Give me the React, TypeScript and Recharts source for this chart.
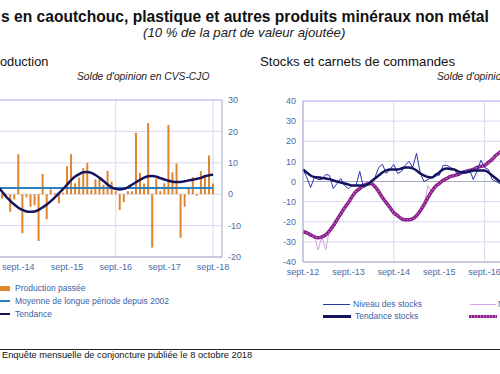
import React from 'react';
import { ComposedChart, LineChart, Bar, Line, XAxis, YAxis, CartesianGrid, ReferenceLine } from 'recharts';

// ---------- Left chart: Production (month index 0 = janv.-14) ----------
const prodStartMonth = 2; // mars-14
const productionPassee = [
  0, 0, -1.4, -0.4, -5.6, -1.7, 12.7, -12.4, -1, -4, -3.5, -14.9, 6.4, -8, 1.5, 0.3,
  -2.9, 0.5, 8.9, 12.7, 3.5, 5.3, 8.3, 10, 1.5, 4.8, 4.8, 3, 7.5, 4, 1, -5, -2.5, 0.9,
  0.9, 19.6, 6.8, 3.4, 22.7, -17, 5, 1, 3.5, 22, 7, 9.8, -13.9, -4, 1.7, 5.5, -0.5, 7.3,
  5.5, 12.3, 3.4,
];
const tendanceProd = [
  3.8, 2.4, 0.8, -0.8, -2.1, -3.3, -4.3, -5.0, -5.5, -5.6, -5.5, -5.0, -4.2, -3.3, -2.2,
  -1.0, 0.3, 1.6, 3.0, 4.5, 5.6, 6.4, 7.0, 7.1, 6.8, 6.1, 5.2, 4.2, 3.1, 2.2, 1.7, 1.5,
  1.7, 2.2, 3.0, 3.8, 4.6, 5.3, 5.7, 5.8, 5.6, 5.1, 4.7, 4.3, 4.0, 3.9, 3.9, 4.1, 4.4,
  4.6, 4.9, 5.2, 5.7, 6.0, 6.3,
];
const moyenneLonguePeriode = 2.0;
const leftTicks = [8, 20, 32, 44, 56];
const leftTickLabels = ['sept.-14', 'sept.-15', 'sept.-16', 'sept.-17', 'sept.-18'];

// ---------- Right chart: Stocks et carnets (month index 0 = sept.-12) ----------
const niveauStocks = [
  6, 2, -3, 2, 1, 1, 3.5, 3, -3.5, -1, 1.5, -2, -3.5, -2, -2, 5, -3, -2, 0, 2, 7, 8.5, 4,
  6, 8.5, 4, 5, 8, 10, 7, 14, 4, 0, 1, 2, 4, 3, 8, 8, 7, 6, 3, 5, 5, 6, 1, 5, 10.5, 7, 6,
  1, 0, -1, -2, -1,
];
const tendanceStocks = [
  6, 4.5, 3, 2.2, 2, 1.8, 1.5, 1.2, 0.5, 0, -0.5, -1, -1.5, -2, -2, -2, -2, -1.5, 0, 1.5,
  3, 4.5, 5.5, 6, 6, 6, 6.5, 7, 7, 6.5, 5.5, 4, 3, 2.2, 2, 3, 4.5, 6, 6.5, 6.2, 6, 5, 4.5,
  4.5, 5, 5.5, 5.5, 5.5, 5.5, 4.5, 3, 1.5, 0, -1, -2,
];
const niveauCarnets = [
  -25, -26, -26, -27, -34, -27.5, -34, -24, -22.5, -19, -16.5, -13, -11, -7.5, -5.5, -3,
  -2, -0.5, 0.5, -2.5, -5.5, -8, -10.5, -13.5, -15.5, -17.5, -18.5, -19.5, -18.5, -18.5,
  -17, -14, -11.5, -2, -5.5, -2.5, -1, 0.5, 1.5, 2, 3, 3.5, 4.5, 5.5, 5, 6, 7.5, 7.5, 8,
  9.5, 11, 13, 14.5, 16, 17.5,
];
const tendanceCarnets = [
  -25, -25.5, -26.5, -27.5, -28, -27.5, -26.5, -24.5, -22, -19, -16, -13, -10.5, -7.5, -5,
  -3.5, -2, -1.2, -1, -2.5, -5, -8, -10.5, -13, -15.5, -17, -18.5, -19, -19, -18.5, -17,
  -14.5, -11.5, -8, -5, -2.5, -1, 0.5, 1.5, 2.5, 3, 3.5, 4.5, 5, 5.5, 6, 7, 7.5, 8, 9.5,
  11, 13, 14.5, 16, 17.5,
];
const rightTicks = [0, 12, 24, 36, 48, 60, 72];
const rightTickLabels = ['sept.-12', 'sept.-13', 'sept.-14', 'sept.-15', 'sept.-16', 'sept.-17', 'sept.-18'];

const leftData = productionPassee.map((v, i) => ({
  m: prodStartMonth + i,
  prod: v,
  tend: tendanceProd[i],
  moy: moyenneLonguePeriode,
}));
const rightData = niveauStocks.map((v, i) => ({
  m: i,
  ns: v,
  ts: tendanceStocks[i],
  nc: niveauCarnets[i],
  tc: tendanceCarnets[i],
}));

const FONT = '"Liberation Sans", Arial, sans-serif';
const TICK = { fill: '#4a6aa8', fontSize: 9, fontFamily: FONT };
const GRID = '#d8d8f0';
const AXIS = '#a8a8c8';
const LEG = { fontSize: 8.5, color: '#3a62a8' };

const abs = (l: number, t: number): React.CSSProperties => ({ position: 'absolute', left: l, top: t, whiteSpace: 'nowrap' });

export default function App() {
  return (
    <div style={{ position: 'absolute', left: 0, top: 0, width: 500, height: 374, overflow: 'hidden', background: '#fff', fontFamily: FONT }}>
      <div style={{ ...abs(1, 8), fontSize: 15.6, fontWeight: 'bold', color: '#111' }}>
        s en caoutchouc, plastique et autres produits minéraux non métal
      </div>
      <div style={{ ...abs(143, 25), fontSize: 13.2, fontStyle: 'italic', color: '#222' }}>
        (10 % de la part de valeur ajoutée)
      </div>
      <div style={{ ...abs(0, 54), fontSize: 12.8, color: '#111' }}>oduction</div>
      <div style={{ ...abs(77, 71), fontSize: 10.3, fontStyle: 'italic', color: '#222' }}>Solde d'opinion en CVS-CJO</div>
      <div style={{ ...abs(260, 54), fontSize: 13.2, color: '#111' }}>Stocks et carnets de commandes</div>
      <div style={{ ...abs(437, 71), fontSize: 10.3, fontStyle: 'italic', color: '#222' }}>Solde d'opinion en CVS-CJO</div>

      {/* Left chart */}
      <div style={{ position: 'absolute', left: -6, top: 92 }}>
        <ComposedChart width={268} height={190} data={leftData} margin={{ top: 8, right: 0, bottom: 0, left: 0 }}>
          <CartesianGrid stroke={GRID} horizontalValues={[30, 20, 10, 0, -10, -20]} verticalValues={leftTicks} />
          <XAxis
            dataKey="m"
            type="number"
            domain={[2, 58.2]}
            ticks={leftTicks}
            tickFormatter={(v: number) => leftTickLabels[leftTicks.indexOf(v)]}
            tick={TICK}
            tickSize={0}
            tickMargin={7}
            height={25}
            stroke={AXIS}
            allowDataOverflow
          />
          <YAxis
            orientation="right"
            domain={[-20, 30]}
            ticks={[-20, -10, 0, 10, 20, 30]}
            tick={TICK}
            tickSize={0}
            tickMargin={6}
            width={40}
            stroke={AXIS}
            interval={0}
          />
          <ReferenceLine y={30} stroke="#c4b8f0" />
          <Bar dataKey="prod" fill="#e0842e" barSize={2} isAnimationActive={false} />
          <Line dataKey="moy" stroke="#2f7fbf" strokeWidth={2} dot={false} isAnimationActive={false} />
          <Line dataKey="tend" type="monotone" stroke="#14145e" strokeWidth={2.5} dot={false} isAnimationActive={false} />
        </ComposedChart>
      </div>

      {/* Right chart */}
      <div style={{ position: 'absolute', left: 263.3, top: 93 }}>
        <LineChart width={330} height={194} data={rightData} margin={{ top: 8, right: 10, bottom: 0, left: 0 }}>
          <CartesianGrid stroke={GRID} horizontalValues={[40, 30, 20, 10, 0, -10, -20, -30, -40]} verticalValues={rightTicks} />
          <XAxis
            dataKey="m"
            type="number"
            domain={[0, 74]}
            ticks={rightTicks}
            tickFormatter={(v: number) => rightTickLabels[rightTicks.indexOf(v)]}
            tick={TICK}
            tickSize={0}
            tickMargin={7}
            height={25}
            stroke={AXIS}
          />
          <YAxis
            domain={[-40, 40]}
            ticks={[-40, -30, -20, -10, 0, 10, 20, 30, 40]}
            tick={TICK}
            tickSize={0}
            tickMargin={7}
            width={40}
            stroke={AXIS}
            interval={0}
          />
          <ReferenceLine y={40} stroke="#c4b8f0" />
          <ReferenceLine y={0} stroke="#a8a8c0" />
          <Line dataKey="nc" stroke="#d9a2e6" strokeWidth={1} dot={false} isAnimationActive={false} />
          <Line dataKey="tc" type="monotone" stroke="#861f86" strokeWidth={3.5} dot={false} isAnimationActive={false} />
          <Line dataKey="tc" type="monotone" stroke="#d06ad0" strokeWidth={1.2} strokeDasharray="1.5 2" dot={false} isAnimationActive={false} />
          <Line dataKey="ns" stroke="#2836a8" strokeWidth={1} dot={false} isAnimationActive={false} />
          <Line dataKey="ts" type="monotone" stroke="#14145e" strokeWidth={2.5} dot={false} isAnimationActive={false} />
        </LineChart>
      </div>

      {/* Left legend */}
      <div style={{ ...abs(0, 286), width: 10, height: 5, background: '#e0842e' }} />
      <div style={{ ...abs(15, 282.5), ...LEG }}>Production passée</div>
      <div style={{ ...abs(0, 300), width: 10, height: 2, background: '#2f7fbf' }} />
      <div style={{ ...abs(15, 296), ...LEG }}>Moyenne de longue période depuis 2002</div>
      <div style={{ ...abs(0, 312.5), width: 10, height: 2, background: '#14145e' }} />
      <div style={{ ...abs(15, 308.5), ...LEG }}>Tendance</div>

      {/* Right legend */}
      <div style={{ ...abs(323, 303.5), width: 27, height: 1, background: '#2836a8' }} />
      <div style={{ ...abs(353, 299), ...LEG }}>Niveau des stocks</div>
      <div style={{ ...abs(323, 315), width: 28, height: 3, background: '#14145e' }} />
      <div style={{ ...abs(355, 311), ...LEG }}>Tendance stocks</div>
      <div style={{ ...abs(470, 303.5), width: 26, height: 1, background: '#d9a2e6' }} />
      <div style={{ ...abs(498, 299), ...LEG }}>Niveau des carnets</div>
      <div style={{ ...abs(469, 315), width: 28, height: 3, background: 'repeating-linear-gradient(90deg, #861f86 0 2px, #d06ad0 2px 3px)' }} />
      <div style={{ ...abs(500, 311), ...LEG }}>Tendance carnets</div>

      {/* Footer */}
      <div style={{ ...abs(0, 349), width: 500, height: 1, background: '#222' }} />
      <div style={{ ...abs(2, 350), fontSize: 9.3, color: '#111' }}>Enquête mensuelle de conjoncture publiée le 8 octobre 2018</div>
    </div>
  );
}
